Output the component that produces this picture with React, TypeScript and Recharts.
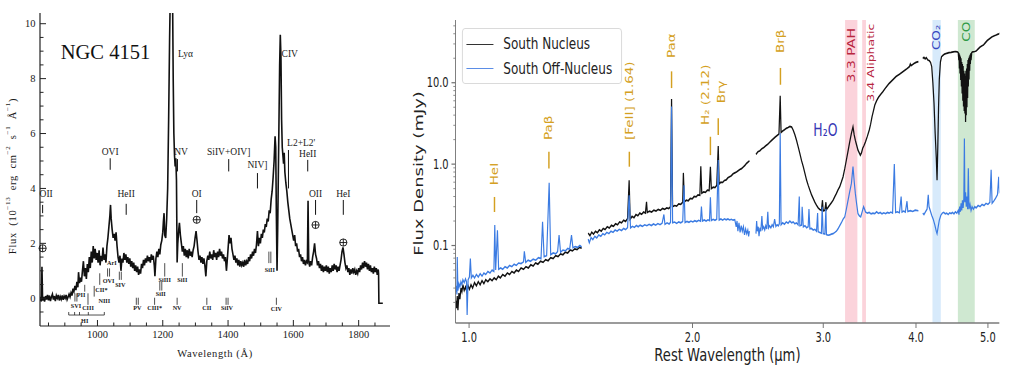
import React from "react";
import { LineChart, Line, XAxis, YAxis, ReferenceLine, ReferenceDot, ReferenceArea, Legend } from "recharts";

type Pt = [number, number | null];

// ================= Left panel: NGC 4151 UV spectrum =================
const uvFar: Pt[] = [
  [824,-0.1],[826,0.05],[828,-0.12],[830,1.15],[832,-0.08],[835,0.05],[838,-0.12],[841,0.08],[844,-0.05],[847,0.12],
  [850,-0.08],[853,0.1],[856,-0.1],[859,0.05],[862,0.15],[865,-0.05],[868,0.08],[871,-0.1],[874,0.1],[877,0.0],
  [880,0.12],[883,-0.08],[886,0.06],[889,-0.04],[892,0.1],[895,-0.06],[898,0.08],[901,0.0],[904,0.12],[907,-0.05],
  [910,0.05],[913,0.15],[916,0.05],[919,0.2],[922,0.1],[925,0.35],[928,0.25],[931,0.45],[934,0.3],[937,0.6],
  [940,0.4],[942,0.95],[945,0.55],[948,0.75],[951,0.6],[954,1.0],[957,1.35],[960,0.8],[963,1.1],[966,0.7],
  [969,1.25],[972,0.95],[975,1.5],[978,1.1],[981,1.7],[984,1.3],[987,1.9],[990,1.45],[993,1.8],[996,1.4],[999,1.65],
];
const uvOVI: Pt[] = [
  [1002,1.3],[1005,1.75],[1008,1.2],[1011,1.55],[1014,1.35],[1017,1.85],[1020,1.4],[1023,1.6],[1026,1.3],[1029,1.9],
  [1032,2.2],[1035,2.6],[1038,3.0],[1040,3.4],[1042,2.9],[1045,2.5],[1048,2.2],[1051,2.35],[1054,2.1],[1057,2.4],
  [1060,1.9],[1063,1.5],[1066,1.3],[1069,1.55],[1072,1.0],[1075,1.45],[1078,1.3],[1081,1.65],[1084,1.4],[1087,1.6],
  [1090,1.3],[1093,1.5],[1096,1.25],[1099,1.45],[1102,1.15],[1105,1.35],[1108,1.1],[1111,1.3],[1114,1.0],[1117,1.2],
  [1120,0.95],[1123,1.15],[1126,0.85],[1129,1.05],[1132,0.9],[1135,1.25],[1138,1.1],[1141,1.4],[1144,1.2],[1147,1.45],
  [1150,1.3],[1153,1.55],[1156,1.35],[1159,1.5],[1162,1.3],[1165,1.6],[1168,1.4],[1171,1.55],[1174,1.2],[1176,0.8],
  [1179,1.45],[1182,1.7],[1185,1.5],[1188,1.8],[1191,1.6],[1194,1.95],[1197,2.1],[1200,2.4],
];
const uvLya: Pt[] = [
  [1202,2.8],[1204,3.1],[1206,2.3],[1209,2.2],[1212,2.9],[1215,4.0],[1218,6.5],[1221,9.5],[1223,11],[1227,11],
  [1230,11],[1232,8.0],[1234,6.0],[1236,5.2],[1238,4.8],[1240,5.1],[1242,4.3],[1244,1.3],[1246,2.0],[1249,2.5],
  [1251,2.75],[1254,2.3],[1257,2.0],[1260,1.7],[1263,1.9],[1266,1.55],[1269,1.8],[1272,1.5],[1275,1.75],[1278,1.45],
  [1281,1.8],[1284,1.55],[1287,1.7],[1290,1.5],[1293,1.75],[1296,1.9],[1299,2.2],[1302,2.45],[1305,2.1],[1308,1.7],
  [1311,1.4],[1314,1.55],[1317,1.3],[1320,1.5],[1323,1.25],[1326,1.45],[1329,1.2],[1332,0.8],[1335,1.35],[1338,1.55],
  [1341,1.4],[1344,1.7],[1347,1.45],[1350,1.6],[1353,1.4],[1356,1.75],[1359,1.5],[1362,1.65],[1365,1.4],[1368,1.7],
  [1371,1.5],[1374,1.8],[1377,1.55],[1380,1.7],[1383,1.45],[1386,1.6],[1389,1.35],[1392,1.5],[1395,1.0],[1397,1.3],
  [1400,1.8],[1403,2.3],[1406,2.0],
];
const uvCIV: Pt[] = [
  [1409,2.2],[1412,1.8],[1415,1.6],[1418,1.4],[1421,1.55],[1424,1.3],[1427,1.45],[1430,1.2],[1433,1.4],[1436,1.15],
  [1439,1.35],[1442,1.2],[1445,1.3],[1448,1.15],[1451,1.4],[1454,1.2],[1457,1.35],[1460,1.25],[1463,1.5],[1466,1.35],
  [1469,1.6],[1472,1.45],[1475,1.7],[1478,1.55],[1481,1.8],[1484,1.65],[1487,1.95],[1490,2.45],[1493,1.9],[1496,2.2],
  [1499,2.0],[1502,2.35],[1505,2.2],[1508,2.5],[1511,2.4],[1514,2.7],[1517,2.6],[1520,2.9],[1523,2.8],[1526,3.2],
  [1529,3.1],[1532,3.6],[1535,3.9],[1538,4.4],[1541,5.0],[1544,5.9],[1546,5.5],[1548,3.0],[1550,1.0],[1552,2.5],
  [1554,4.5],[1556,6.5],[1558,8.5],[1560,9.6],[1562,8.8],[1564,6.5],[1566,5.5],[1568,5.2],[1570,4.9],[1572,5.3],
  [1574,4.6],[1577,4.2],[1580,3.9],[1583,3.5],[1586,3.2],[1589,2.9],[1592,2.7],[1595,2.5],[1598,2.3],
];
const uvRed: Pt[] = [
  [1601,2.1],[1604,2.3],[1607,1.9],[1610,2.0],[1613,1.7],[1616,1.8],[1619,1.5],[1622,1.6],[1625,1.35],[1628,1.5],
  [1631,1.25],[1634,1.4],[1637,1.2],[1640,1.35],[1643,1.3],[1645,3.55],[1647,1.4],[1650,1.15],[1653,1.35],[1656,1.2],
  [1659,1.5],[1662,1.7],[1665,2.0],[1668,1.6],[1671,1.45],[1674,1.2],[1677,1.35],[1680,1.1],[1683,1.25],[1686,1.0],
  [1689,1.2],[1692,0.95],[1695,1.15],[1698,1.0],[1701,1.2],[1704,0.95],[1707,1.15],[1710,0.9],[1713,1.1],[1716,0.95],
  [1719,1.2],[1722,1.0],[1725,1.25],[1728,1.05],[1731,1.2],[1734,0.95],[1737,1.15],[1740,1.0],[1743,1.2],[1746,1.4],
  [1749,1.7],[1752,1.85],[1755,1.6],[1758,1.3],[1761,1.1],[1764,1.2],[1767,0.95],[1770,1.1],[1773,0.85],[1776,1.05],
  [1779,0.9],[1782,1.1],[1785,0.95],[1788,1.05],[1791,0.85],[1794,1.0],[1797,0.9],[1800,1.1],[1803,0.95],[1806,1.2],
  [1809,1.05],[1812,1.3],[1815,1.1],[1818,1.35],[1821,1.15],[1824,1.3],[1827,1.05],[1830,1.25],[1833,1.0],[1836,1.2],
  [1839,0.95],[1842,1.1],[1845,0.9],[1848,1.15],[1851,0.95],[1854,1.1],[1857,0.85],[1860,1.05],[1861,0.9],[1862,-0.18],
  [1874,-0.18],
];

const uvXTicks = [850,900,950,1000,1050,1100,1150,1200,1250,1300,1350,1400,1450,1500,1550,1600,1650,1700,1750,1800,1850];
const uvXLabelled = [1000,1200,1400,1600,1800];
const uvYTicks = [-0.5,0,0.5,1,1.5,2,2.5,3,3.5,4,4.5,5,5.5,6,6.5,7,7.5,8,8.5,9,9.5,10];
const uvYLabelled = [0,2,4,6,8,10];

// emission line labels: text, wavelength, flux of baseline
const uvTopText = ["OII","OVI","HeII","Lyα","NV","SiIV+OIV]","NIV]","CIV","L2+L2'","HeII","OI","OII","HeI"];
const uvTopTextX = [843,1039,1088,1270,1256,1402,1490,1589,1624,1644,1304,1668,1753];
const uvTopTextY = [3.7,5.22,3.7,8.8,5.22,5.22,4.74,8.8,5.53,5.16,3.7,3.7,3.7];
const uvTopMarkX = [832,1039,1088,1245,1402,1490,1585,1644,1304,1668,1753];
const uvTopMarkY1 = [3.4,5.1,3.44,5.07,5.07,4.56,5.4,5.04,3.58,3.58,3.58];
const uvTopMarkY2 = [3.1,4.68,3.04,4.62,4.62,4.0,4.0,4.62,3.1,3.04,3.04];
const uvEarthX = [832,1304,1668,1753];
const uvEarthY = [1.82,2.86,2.67,2.03];

// absorption labels (small)
const uvLowText = ["ArI","OVI","SIV","CII*","NIII","PII","CIII","SVI","HI","PV","CIII*","SiII","SiIII","SiII","NV","CII","SiIV","CIV","SiII"];
const uvLowTextX = [1044,1034,1070,1012,1021,950,971,934,961,1122,1175,1194,1206,1260,1244,1335,1397,1548,1528];
const uvLowTextY = [1.22,0.57,0.4,0.24,-0.18,0.06,-0.43,-0.34,-0.89,-0.43,-0.43,0.09,0.61,0.61,-0.43,-0.43,-0.43,-0.45,0.97];
const uvLowMarkX = [1007,990,961,971,1175,1206,1260,1244,1335,1548];
const uvLowMarkY1 = [0.91,0.45,0.49,0.18,0.02,1.28,1.28,0.02,0.02,0.02];
const uvLowMarkY2 = [0.49,0.06,0.24,-0.24,-0.24,0.79,0.79,-0.24,-0.24,-0.24];
const uvPairMarkX = [1034,1070,1194,1122,1397,1528,934];
const uvPairMarkY1 = [1.09,0.97,0.61,0.02,0.02,1.7,0.18];
const uvPairMarkY2 = [0.79,0.67,0.28,-0.24,-0.24,1.28,-0.12];
const uvHIBracket = [912, 1021];
const uvHIBracketY = [-0.61, -0.5];
const uvHITicks = [912, 930, 945, 972, 1021];
const uvTitle = "NGC 4151";
const uvTitlePos = [887.6, 8.71];

// ================= Right panel: JWST spectrum =================
const nucSeg1: Pt[] = [
  [0.959,0.021],[0.962,0.017],[0.964,0.024],[0.966,0.016],[0.969,0.026],[0.972,0.022],[0.975,0.03],[0.978,0.027],[0.981,0.033],[0.985,0.028],
  [0.989,0.031],[0.993,0.027],[0.997,0.032],[1.001,0.029],[1.006,0.033],[1.011,0.03],[1.017,0.035],[1.023,0.032],[1.029,0.036],[1.035,0.033],
  [1.041,0.037],[1.047,0.034],[1.053,0.038],[1.06,0.036],[1.067,0.039],[1.074,0.037],[1.081,0.04],[1.088,0.038],[1.095,0.042],[1.102,0.04],
  [1.11,0.044],[1.118,0.042],[1.126,0.046],[1.134,0.044],[1.142,0.048],[1.15,0.046],[1.158,0.05],[1.166,0.048],[1.175,0.053],[1.184,0.051],
  [1.193,0.055],[1.202,0.053],[1.211,0.058],[1.22,0.056],[1.229,0.061],[1.238,0.059],[1.248,0.064],[1.258,0.062],[1.268,0.067],[1.278,0.065],
  [1.288,0.071],[1.298,0.069],[1.308,0.075],[1.318,0.073],[1.328,0.079],[1.338,0.077],[1.348,0.083],[1.358,0.081],[1.368,0.088],[1.378,0.086],
  [1.388,0.091],[1.398,0.089],[1.408,0.095],[1.418,0.093],
];
const nucSeg2: Pt[] = [
  [1.447,0.142],[1.455,0.132],[1.463,0.146],[1.471,0.138],[1.48,0.15],[1.489,0.144],[1.498,0.156],[1.507,0.15],[1.516,0.162],[1.525,0.157],
  [1.535,0.17],[1.545,0.164],[1.555,0.177],[1.565,0.172],[1.575,0.185],[1.585,0.18],[1.595,0.195],[1.605,0.19],[1.615,0.205],[1.625,0.198],
  [1.635,0.215],[1.643,0.635],[1.648,0.21],[1.658,0.228],[1.668,0.22],[1.678,0.24],[1.688,0.232],[1.698,0.25],[1.708,0.242],[1.718,0.258],
  [1.728,0.25],[1.734,0.344],[1.738,0.255],[1.75,0.265],[1.762,0.258],[1.774,0.272],[1.786,0.265],[1.798,0.278],[1.81,0.27],[1.822,0.285],
  [1.834,0.278],[1.846,0.29],[1.858,0.285],[1.868,0.3],[1.874,6.3],[1.88,0.3],[1.892,0.31],[1.904,0.305],[1.916,0.325],[1.928,0.32],
  [1.94,0.34],[1.944,0.78],[1.95,0.345],[1.962,0.36],[1.974,0.355],[1.986,0.38],[1.998,0.375],[2.01,0.4],[2.022,0.395],[2.034,0.42],
  [2.046,0.415],[2.052,0.94],[2.058,0.44],[2.07,0.455],[2.082,0.45],[2.094,0.48],[2.106,0.475],[2.114,0.93],[2.12,0.5],[2.132,0.52],
  [2.144,0.515],[2.156,0.55],[2.166,1.67],[2.172,0.57],[2.184,0.6],[2.196,0.595],[2.208,0.63],[2.22,0.64],[2.232,0.68],[2.244,0.7],
  [2.256,0.72],[2.268,0.76],[2.28,0.78],[2.292,0.8],[2.304,0.83],[2.316,0.86],[2.328,0.88],[2.34,0.92],[2.352,0.96],[2.364,1.02],
  [2.376,1.06],[2.386,1.1],
];
const nucSeg3: Pt[] = [
  [2.435,1.32],[2.45,1.42],[2.465,1.46],[2.48,1.55],[2.495,1.6],[2.51,1.68],[2.525,1.75],[2.54,1.85],[2.555,1.95],[2.57,2.05],
  [2.585,2.15],[2.6,2.25],[2.615,2.35],[2.625,6.9],[2.632,2.45],[2.645,2.55],[2.66,2.65],[2.675,2.75],[2.69,2.82],[2.705,2.9],
  [2.72,2.85],[2.733,2.62],[2.747,2.3],[2.761,1.97],[2.775,1.65],[2.79,1.35],[2.805,1.1],[2.82,0.93],[2.835,0.76],[2.849,0.635],
  [2.863,0.55],[2.878,0.48],[2.893,0.42],[2.908,0.378],[2.923,0.34],[2.938,0.313],[2.953,0.29],[2.968,0.277],[2.983,0.27],[2.993,0.36],
  [2.999,0.266],[3.015,0.27],[3.025,0.34],[3.03,0.277],[3.045,0.295],[3.06,0.313],[3.076,0.335],[3.093,0.36],[3.11,0.4],[3.125,0.436],
  [3.14,0.48],[3.157,0.526],[3.173,0.6],[3.19,0.698],[3.207,0.88],[3.223,1.12],[3.24,1.45],[3.257,1.88],[3.274,2.4],[3.29,2.88],
  [3.302,2.3],[3.314,1.97],[3.328,1.7],[3.341,1.49],[3.354,1.38],[3.366,1.29],[3.378,1.38],[3.39,1.56],[3.405,1.7],[3.42,1.88],
  [3.44,2.2],[3.46,2.62],[3.475,3.1],[3.49,3.82],[3.505,4.5],[3.52,5.3],[3.54,6.0],[3.56,6.6],[3.585,7.2],[3.61,7.77],
  [3.645,8.8],[3.68,9.8],[3.72,10.8],[3.76,11.9],[3.8,12.7],[3.84,13.6],[3.88,14.6],[3.92,15.8],[3.93,17],[3.94,16.2],
  [3.975,17.2],[4.0,17.8],[4.03,18.2],
];
const nucSeg4: Pt[] = [
  [4.085,19.9],[4.1,20.5],[4.115,19.6],[4.13,20.3],[4.15,19.0],[4.17,18.6],[4.185,17.8],[4.2,15.8],[4.215,10],[4.23,5.6],
  [4.245,2.4],[4.26,1.2],[4.27,0.635],[4.28,1.63],[4.29,5],[4.3,11],[4.315,18],[4.33,20.9],[4.35,21.8],[4.37,22.5],
  [4.4,23],[4.43,23.4],[4.46,23.6],[4.49,23.9],[4.52,24.2],[4.545,24],[4.56,23.5],[4.568,19],[4.572,23],[4.576,15],
  [4.58,22],[4.585,13],[4.59,21],[4.595,10.8],[4.6,20],[4.605,9],[4.61,18],[4.615,7.4],[4.62,17],[4.625,6],
  [4.63,16],[4.635,5.1],[4.64,14],[4.645,4.5],[4.65,13],[4.655,4.2],[4.66,12],[4.665,3.3],[4.67,14],[4.675,4.0],
  [4.68,15],[4.685,5.0],[4.69,17],[4.695,6.5],[4.7,19],[4.705,9],[4.71,20],[4.715,11],[4.72,21],[4.725,14],
  [4.73,22],[4.735,17],[4.74,23],[4.745,19],[4.755,23.5],[4.77,24],[4.8,24.2],[4.82,24.5],[4.85,26],[4.88,27.5],
  [4.91,28.5],[4.93,29],[4.96,31],[4.99,33],[5.03,35],[5.06,36.5],[5.1,37.8],[5.13,38.6],[5.16,39.5],[5.19,40.5],[5.22,41.5],
];
const offSeg1: Pt[] = [
  [0.959,0.027],[0.961,0.032],[0.963,0.025],[0.964,0.072],[0.966,0.028],[0.969,0.034],[0.972,0.031],[0.975,0.036],[0.978,0.033],[0.981,0.038],
  [0.985,0.035],[0.989,0.039],[0.992,0.036],[0.994,0.014],[0.997,0.038],[1.001,0.041],[1.004,0.069],[1.007,0.04],[1.012,0.043],[1.017,0.04],
  [1.023,0.044],[1.029,0.041],[1.035,0.045],[1.041,0.042],[1.047,0.046],[1.053,0.044],[1.06,0.048],[1.067,0.046],[1.074,0.05],[1.08,0.048],
  [1.083,0.178],[1.086,0.05],[1.092,0.154],[1.096,0.051],[1.103,0.053],[1.11,0.051],[1.118,0.055],[1.126,0.053],[1.134,0.057],[1.142,0.055],
  [1.15,0.059],[1.158,0.057],[1.166,0.061],[1.175,0.06],[1.184,0.063],[1.187,0.085],[1.192,0.062],[1.201,0.066],[1.21,0.064],[1.22,0.068],
  [1.23,0.066],[1.24,0.071],[1.25,0.069],[1.256,0.195],[1.262,0.073],[1.272,0.075],[1.282,0.59],[1.288,0.077],[1.298,0.081],[1.308,0.079],
  [1.316,0.084],[1.322,0.134],[1.328,0.083],[1.338,0.088],[1.348,0.086],[1.358,0.092],[1.366,0.09],[1.374,0.134],[1.38,0.094],[1.39,0.097],
  [1.4,0.095],[1.41,0.1],[1.418,0.096],
];
const offSeg2: Pt[] = [
  [1.447,0.12],[1.452,0.108],[1.46,0.125],[1.468,0.118],[1.477,0.13],[1.486,0.124],[1.495,0.135],[1.505,0.13],[1.514,0.14],[1.523,0.135],
  [1.533,0.145],[1.543,0.14],[1.553,0.15],[1.563,0.145],[1.573,0.155],[1.583,0.15],[1.593,0.158],[1.605,0.153],[1.615,0.162],[1.625,0.157],
  [1.635,0.166],[1.643,0.415],[1.65,0.165],[1.66,0.172],[1.67,0.167],[1.68,0.176],[1.69,0.17],[1.7,0.178],[1.712,0.172],[1.724,0.18],
  [1.736,0.175],[1.748,0.182],[1.76,0.176],[1.772,0.184],[1.784,0.178],[1.796,0.186],[1.808,0.18],[1.82,0.188],[1.83,0.24],[1.836,0.182],
  [1.848,0.19],[1.86,0.184],[1.868,0.192],[1.874,5.1],[1.88,0.19],[1.892,0.194],[1.904,0.187],[1.916,0.195],[1.928,0.19],[1.94,0.197],
  [1.948,0.55],[1.954,0.192],[1.966,0.198],[1.978,0.193],[1.99,0.2],[2.002,0.195],[2.014,0.202],[2.026,0.197],[2.038,0.204],[2.05,0.199],
  [2.056,0.3],[2.062,0.2],[2.074,0.206],[2.086,0.2],[2.098,0.207],[2.108,0.202],[2.114,0.39],[2.12,0.203],[2.132,0.21],[2.144,0.204],
  [2.156,0.211],[2.166,1.12],[2.172,0.206],[2.184,0.212],[2.196,0.205],[2.208,0.213],[2.22,0.207],[2.232,0.212],[2.244,0.206],[2.256,0.21],
  [2.268,0.205],[2.28,0.208],[2.29,0.17],[2.296,0.2],[2.302,0.15],[2.31,0.19],[2.318,0.145],[2.326,0.175],[2.334,0.15],[2.342,0.17],
  [2.35,0.135],[2.358,0.16],[2.366,0.14],[2.374,0.155],[2.38,0.13],[2.386,0.15],
];
const offSeg3: Pt[] = [
  [2.435,0.14],[2.44,0.2],[2.445,0.15],[2.452,0.17],[2.458,0.13],[2.465,0.165],[2.472,0.15],[2.48,0.23],[2.486,0.16],[2.494,0.17],
  [2.502,0.155],[2.51,0.175],[2.518,0.16],[2.526,0.26],[2.532,0.165],[2.54,0.175],[2.55,0.165],[2.56,0.18],[2.57,0.17],[2.58,0.21],
  [2.59,0.172],[2.6,0.18],[2.61,0.174],[2.618,0.185],[2.625,2.4],[2.632,0.18],[2.645,0.19],[2.66,0.183],[2.675,0.195],[2.69,0.188],
  [2.705,0.2],[2.72,0.19],[2.733,0.195],[2.747,0.185],[2.761,0.19],[2.775,0.18],[2.785,0.4],[2.79,0.175],[2.805,0.178],[2.81,0.3],
  [2.82,0.17],[2.835,0.175],[2.849,0.165],[2.863,0.17],[2.87,0.28],[2.878,0.16],[2.893,0.162],[2.908,0.155],[2.923,0.158],[2.938,0.15],
  [2.948,0.25],[2.953,0.148],[2.968,0.145],[2.983,0.142],[2.99,0.3],[2.999,0.14],[3.015,0.138],[3.025,0.28],[3.03,0.136],[3.045,0.134],
  [3.06,0.135],[3.076,0.138],[3.093,0.14],[3.11,0.145],[3.125,0.15],[3.14,0.16],[3.157,0.175],[3.173,0.19],[3.19,0.21],[3.207,0.225],
  [3.223,0.28],[3.24,0.36],[3.257,0.46],[3.274,0.58],[3.29,0.93],[3.302,0.62],[3.314,0.436],[3.328,0.32],[3.341,0.247],[3.355,0.232],
  [3.37,0.225],[3.385,0.26],[3.4,0.3],[3.41,0.28],[3.42,0.259],[3.44,0.25],[3.46,0.255],[3.48,0.245],[3.5,0.25],[3.52,0.247],
  [3.54,0.26],[3.56,0.248],[3.58,0.255],[3.6,0.245],[3.62,0.252],[3.64,0.246],[3.66,0.255],[3.68,0.25],[3.7,0.258],[3.72,0.25],
  [3.74,1.0],[3.755,0.255],[3.775,0.26],[3.8,0.253],[3.82,0.4],[3.83,0.258],[3.85,0.265],[3.87,0.258],[3.89,0.35],[3.9,0.262],
  [3.93,0.268],[3.96,0.262],[3.99,0.272],[4.03,0.268],
];
const offSeg4: Pt[] = [
  [4.085,0.25],[4.1,0.24],[4.12,0.26],[4.14,0.28],[4.155,0.42],[4.165,0.3],[4.18,0.27],[4.2,0.235],[4.22,0.21],[4.24,0.18],
  [4.26,0.15],[4.27,0.14],[4.285,0.17],[4.3,0.205],[4.32,0.235],[4.34,0.25],[4.36,0.256],[4.38,0.245],[4.4,0.25],[4.42,0.24],
  [4.44,0.252],[4.46,0.247],[4.48,0.255],[4.5,0.245],[4.52,0.26],[4.54,0.25],[4.56,0.27],[4.57,0.24],[4.58,0.3],[4.59,0.26],
  [4.6,0.33],[4.61,0.27],[4.62,0.36],[4.63,0.29],[4.64,0.38],[4.648,2.07],[4.655,0.34],[4.665,0.45],[4.675,0.3],[4.685,0.4],
  [4.695,0.28],[4.705,0.89],[4.715,0.28],[4.73,0.32],[4.745,0.27],[4.76,0.3],[4.78,0.28],[4.8,0.3],[4.82,0.29],[4.85,0.31],
  [4.88,0.3],[4.91,0.32],[4.94,0.31],[4.97,0.33],[5.0,0.32],[5.03,0.34],[5.05,0.85],[5.065,0.33],[5.09,0.35],[5.12,0.38],
  [5.15,0.42],[5.17,0.7],[5.18,0.45],[5.2,0.47],[5.22,0.5],
];
const detectorGaps = [1.432, 2.41, 4.058];

const irSeriesNames = ["South Nucleus", "South Off-Nucleus"];
const irXTicks = [1, 2, 3, 4, 5];
const irYTicks = [0.02,0.03,0.04,0.05,0.06,0.07,0.08,0.09,0.1,0.2,0.3,0.4,0.5,0.6,0.7,0.8,0.9,1,2,3,4,5,6,7,8,9,10,20,30,40,50];
const irYMajor = [0.1, 1, 10];
const irYMajorLabels = ["0.1", "1.0", "10.0"];

const irLineNames = ["HeI", "Paβ", "[FeII] (1.64)", "Paα", "H₂ (2.12)", "Brγ", "Brβ"];
const irLineNameX = [1.082, 1.281, 1.644, 1.874, 2.084, 2.19, 2.627];
const irLineNameY = [0.55, 1.98, 1.98, 20.2, 3.03, 5.6, 23.2];
const irLineMarkX = [1.082, 1.281, 1.644, 1.874, 2.114, 2.166, 2.627];
const irLineMarkTop = [0.395, 1.42, 1.42, 13.8, 2.17, 3.66, 15.2];
const irLineMarkBottom = [0.258, 0.885, 0.93, 8.6, 1.29, 2.28, 9.45];

const irBandNames = ["3.3 PAH", "3.4 Aliphatic", "CO₂", "CO"];
const irBandNameX = [3.28, 3.478, 4.265, 4.675];
const irBandNameY = [10.1, 5.85, 25.2, 31.9];
const irBandRanges = [[3.21, 3.335], [3.385, 3.425], [4.21, 4.32], [4.555, 4.8]];
const irIceLabel = "H₂O";
const irIcePos = [3.02, 2.62];

// ================= styles =================
const SERIF = "'Liberation Serif', 'DejaVu Serif', serif";
const SANS = "'DejaVu Sans', sans-serif";
const INK = "#1a1a1a";
const NUC_COLOR = "#121212";
const OFF_COLOR = "#3b7be2";
const GOLD = "#d4a021";
const bandFills = ["rgba(246,150,170,0.42)", "rgba(246,150,170,0.42)", "rgba(150,200,245,0.38)", "rgba(140,200,145,0.42)"];
const bandTextColors = ["#b8263e", "#b8263e", "#3848c0", "#2f9a45"];
const bandTextSizes = [14, 12.5, 13.5, 13.5];
const SQUEEZE = 0.73;
const IR_W = 834;

const toPoints = (arr: Pt[]) => arr.map(([x, y]) => ({ x, y }));
const joinSegments = (segs: Pt[][]) => {
  const out: Pt[] = [];
  segs.forEach((s, i) => {
    out.push(...s);
    if (i < detectorGaps.length && i < segs.length - 1) out.push([detectorGaps[i], null]);
  });
  return toPoints(out);
};

const uvData = toPoints([...uvFar, ...uvOVI, ...uvLya, ...uvCIV, ...uvRed]);
const nucData = joinSegments([nucSeg1, nucSeg2, nucSeg3, nucSeg4]);
const offData = joinSegments([offSeg1, offSeg2, offSeg3, offSeg4]);

// ---- tick renderers (left panel: inward ticks, frame on four sides) ----
const uvBottomTick = (p: any) => {
  const v = p.payload.value;
  const major = uvXLabelled.includes(v);
  return (
    <g>
      <line x1={p.x} y1={p.y} x2={p.x} y2={p.y - (major ? 6 : 3.5)} stroke="#222" strokeWidth={1} />
      {major && (
        <text x={p.x} y={p.y + 11.5} textAnchor="middle" fontFamily={SERIF} fontSize={10.5} fill={INK}>{v}</text>
      )}
    </g>
  );
};
const uvTopTick = (p: any) => {
  const major = uvXLabelled.includes(p.payload.value);
  return <line x1={p.x} y1={p.y} x2={p.x} y2={p.y + (major ? 6 : 3.5)} stroke="#222" strokeWidth={1} />;
};
const uvLeftTick = (p: any) => {
  const v = p.payload.value;
  const major = uvYLabelled.includes(v);
  return (
    <g>
      <line x1={p.x} y1={p.y} x2={p.x + (major ? 6 : 3.5)} y2={p.y} stroke="#222" strokeWidth={1} />
      {major && (
        <text x={p.x - 4.5} y={p.y} textAnchor="end" dominantBaseline="central" fontFamily={SERIF} fontSize={10.5} fill={INK}>{v}</text>
      )}
    </g>
  );
};
const uvRightTick = (p: any) => {
  const major = uvYLabelled.includes(p.payload.value);
  return <line x1={p.x} y1={p.y} x2={p.x - (major ? 6 : 3.5)} y2={p.y} stroke="#222" strokeWidth={1} />;
};

// ---- tick renderers (right panel) ----
const irBottomTick = (p: any) => (
  <g>
    <line x1={p.x} y1={p.y} x2={p.x} y2={p.y + 5} stroke="#6f6f6f" strokeWidth={1.3} />
    <text x={p.x} y={p.y + 19} textAnchor="middle" fontFamily={SANS} fontSize={13.5} fill="#222">
      {Number(p.payload.value).toFixed(1)}
    </text>
  </g>
);
const irLeftTick = (p: any) => {
  const idx = irYMajor.findIndex((m) => Math.abs(m - p.payload.value) < 1e-9);
  const major = idx >= 0;
  return (
    <g>
      <line x1={p.x - (major ? 5.5 : 3)} y1={p.y} x2={p.x} y2={p.y} stroke="#6f6f6f" strokeWidth={major ? 1.2 : 0.9} />
      {major && (
        <text x={p.x - 9.5} y={p.y} textAnchor="end" dominantBaseline="central" fontFamily={SANS} fontSize={13.5} fill="#222">
          {irYMajorLabels[idx]}
        </text>
      )}
    </g>
  );
};

const textDot = (text: string, opts: any) => (p: any) => (
  <text
    x={p.cx}
    y={p.cy}
    textAnchor={opts.anchor || "middle"}
    dominantBaseline={opts.baseline || "alphabetic"}
    transform={opts.rotate ? `rotate(-90 ${p.cx} ${p.cy})` : undefined}
    fontFamily={opts.font}
    fontSize={opts.size}
    fill={opts.color}
    fontWeight={opts.weight || "normal"}
  >
    {text}
  </text>
);

const earthSymbol = (p: any) => (
  <g stroke="#111" strokeWidth={0.9} fill="none">
    <circle cx={p.cx} cy={p.cy} r={3.6} />
    <line x1={p.cx - 3.6} y1={p.cy} x2={p.cx + 3.6} y2={p.cy} />
    <line x1={p.cx} y1={p.cy - 3.6} x2={p.cx} y2={p.cy + 3.6} />
  </g>
);

const legendContent = () => (
  <div
    style={{
      position: "relative",
      width: 219,
      height: 56,
      boxSizing: "border-box",
      border: "1px solid #d4d4d4",
      borderRadius: 4,
      background: "rgba(255,255,255,0.85)",
      fontFamily: SANS,
      fontSize: 16.5,
      color: "#222",
    }}
  >
    {irSeriesNames.map((name, i) => (
      <div
        key={name}
        style={{ position: "absolute", left: 0, top: 3 + i * 24.7, height: 24, display: "flex", alignItems: "center", whiteSpace: "nowrap" }}
      >
        <div style={{ width: 37, marginLeft: 5, borderTop: `1.6px solid ${i === 0 ? "#333" : "#5b8de6"}` }} />
        <span style={{ marginLeft: 13.5, lineHeight: "24px" }}>{name}</span>
      </div>
    ))}
  </div>
);

function UVPanel() {
  const ax = { xAxisId: "b", yAxisId: "l" } as const;
  return (
    <LineChart width={400} height={370} margin={{ top: 13, right: 10, bottom: 0, left: 0 }}>
      <XAxis
        xAxisId="b"
        dataKey="x"
        type="number"
        domain={[824, 1896]}
        allowDataOverflow
        ticks={uvXTicks}
        interval={0}
        tickSize={0}
        tickMargin={0}
        tickLine={false}
        tick={uvBottomTick}
        height={44}
        axisLine={{ stroke: "#222", strokeWidth: 1.2 }}
        label={(props: any) => {
          const vb = props.viewBox || { x: 40, y: 326, width: 350, height: 44 };
          return (
            <text x={vb.x + vb.width / 2} y={vb.y + 30.5} textAnchor="middle" fontFamily={SERIF} fontSize={10.5}
              letterSpacing={0.6} fill={INK}>
              Wavelength (Å)
            </text>
          );
        }}
      />
      <XAxis
        xAxisId="t"
        orientation="top"
        dataKey="x"
        type="number"
        domain={[824, 1896]}
        allowDataOverflow
        ticks={uvXTicks}
        interval={0}
        tickSize={0}
        tickMargin={0}
        tickLine={false}
        tick={uvTopTick}
        height={0}
        axisLine={{ stroke: "#222", strokeWidth: 1.2 }}
      />
      <YAxis
        yAxisId="l"
        type="number"
        domain={[-1.01, 10.39]}
        allowDataOverflow
        ticks={uvYTicks}
        interval={0}
        tickSize={0}
        tickMargin={0}
        tickLine={false}
        tick={uvLeftTick}
        width={40}
        axisLine={{ stroke: "#222", strokeWidth: 1.2 }}
        label={(props: any) => {
          const vb = props.viewBox || { x: 0, y: 13, width: 40, height: 313 };
          const cx = vb.x + 12;
          const cy = vb.y + vb.height / 2 + 6.5;
          return (
            <text x={cx} y={cy} transform={`rotate(-90 ${cx} ${cy})`} textAnchor="middle" dominantBaseline="central"
              fontFamily={SERIF} fontSize={10.5} letterSpacing={0.7} wordSpacing={3} fill={INK}>
              Flux (10<tspan dy={-4} fontSize={7}>−13</tspan>
              <tspan dy={4}> erg cm</tspan><tspan dy={-4} fontSize={7}>−2</tspan>
              <tspan dy={4}> s</tspan><tspan dy={-4} fontSize={7}>−1</tspan>
              <tspan dy={4}> Å</tspan><tspan dy={-4} fontSize={7}>−1</tspan>
              <tspan dy={4}>)</tspan>
            </text>
          );
        }}
      />
      <YAxis
        yAxisId="r"
        orientation="right"
        type="number"
        domain={[-1.01, 10.39]}
        allowDataOverflow
        ticks={uvYTicks}
        interval={0}
        tickSize={0}
        tickMargin={0}
        tickLine={false}
        tick={uvRightTick}
        width={0}
        axisLine={{ stroke: "#222", strokeWidth: 1.2 }}
      />
      <Line xAxisId="t" yAxisId="r" data={uvData} dataKey="y" stroke="none" dot={false} isAnimationActive={false} legendType="none" />
      <Line {...ax} data={uvData} dataKey="y" stroke="#111" strokeWidth={1.6} strokeLinejoin="miter" dot={false} isAnimationActive={false} />

      {uvTopMarkX.map((x, i) => (
        <ReferenceLine key={`tm${i}`} {...ax} segment={[{ x, y: uvTopMarkY1[i] }, { x, y: uvTopMarkY2[i] }]} stroke="#111" strokeWidth={1} />
      ))}
      {uvTopText.map((t, i) => (
        <ReferenceDot key={`tt${i}`} {...ax} x={uvTopTextX[i]} y={uvTopTextY[i]} r={0}
          shape={textDot(t, { font: SERIF, size: 9.5, color: INK })} />
      ))}
      {uvEarthX.map((x, i) => (
        <ReferenceDot key={`e${i}`} {...ax} x={x} y={uvEarthY[i]} r={0} shape={earthSymbol} />
      ))}
      {uvLowMarkX.map((x, i) => (
        <ReferenceLine key={`lm${i}`} {...ax} segment={[{ x, y: uvLowMarkY1[i] }, { x, y: uvLowMarkY2[i] }]} stroke="#222" strokeWidth={0.8} />
      ))}
      {uvPairMarkX.map((x, i) => (
        <React.Fragment key={`pm${i}`}>
          <ReferenceLine {...ax} segment={[{ x: x - 3, y: uvPairMarkY1[i] }, { x: x - 3, y: uvPairMarkY2[i] }]} stroke="#222" strokeWidth={0.8} />
          <ReferenceLine {...ax} segment={[{ x: x + 3, y: uvPairMarkY1[i] }, { x: x + 3, y: uvPairMarkY2[i] }]} stroke="#222" strokeWidth={0.8} />
        </React.Fragment>
      ))}
      <ReferenceLine {...ax} segment={[{ x: uvHIBracket[0], y: uvHIBracketY[0] }, { x: uvHIBracket[1], y: uvHIBracketY[0] }]} stroke="#222" strokeWidth={0.8} />
      {uvHITicks.map((x, i) => (
        <ReferenceLine key={`hi${i}`} {...ax} segment={[{ x, y: uvHIBracketY[0] }, { x, y: uvHIBracketY[1] }]} stroke="#222" strokeWidth={0.8} />
      ))}
      {uvLowText.map((t, i) => (
        <ReferenceDot key={`lt${i}`} {...ax} x={uvLowTextX[i]} y={uvLowTextY[i]} r={0}
          shape={textDot(t, { font: SERIF, size: 6.2, color: INK, weight: "bold" })} />
      ))}
      <ReferenceDot {...ax} x={uvTitlePos[0]} y={uvTitlePos[1]} r={0}
        shape={textDot(uvTitle, { font: SERIF, size: 20.5, color: "#111", anchor: "start" })} />
    </LineChart>
  );
}

function IRPanel() {
  return (
    <LineChart width={IR_W} height={370} margin={{ top: 20, right: 13, bottom: 0, left: 0 }}>
      <XAxis
        dataKey="x"
        type="number"
        scale="log"
        domain={[0.9587, 5.18]}
        allowDataOverflow
        ticks={irXTicks}
        interval={0}
        tickSize={0}
        tickMargin={0}
        tickLine={false}
        tick={irBottomTick}
        height={47}
        axisLine={{ stroke: "#7a7a7a", strokeWidth: 1.3 }}
        label={(props: any) => {
          const vb = props.viewBox || { x: 76, y: 323, width: 745, height: 47 };
          return (
            <text x={vb.x + vb.width / 2} y={vb.y + 38} textAnchor="middle" fontFamily={SANS} fontSize={18} fill="#222">
              Rest Wavelength (μm)
            </text>
          );
        }}
      />
      <YAxis
        type="number"
        scale="log"
        domain={[0.01117, 59]}
        allowDataOverflow
        ticks={irYTicks}
        interval={0}
        tickSize={0}
        tickMargin={0}
        tickLine={false}
        tick={irLeftTick}
        width={76}
        axisLine={{ stroke: "#7a7a7a", strokeWidth: 1.3 }}
        label={(props: any) => {
          const vb = props.viewBox || { x: 0, y: 20, width: 76, height: 303 };
          const cx = vb.x + 24.7;
          const cy = vb.y + vb.height / 2 + 2;
          return (
            <text x={cx} y={cy} transform={`rotate(-90 ${cx} ${cy})`} textAnchor="middle" dominantBaseline="central"
              fontFamily={SANS} fontSize={18} fill="#222">
              Flux Density (mJy)
            </text>
          );
        }}
      />
      {irBandRanges.map((r, i) => (
        <ReferenceArea key={`band${i}`} x1={r[0]} x2={r[1]} fill={bandFills[i]} fillOpacity={1} stroke="none" ifOverflow="visible" />
      ))}
      <ReferenceArea fill="none" stroke="#7a7a7a" strokeWidth={1.3} ifOverflow="visible" />

      <Line data={nucData} dataKey="y" name={irSeriesNames[0]} stroke={NUC_COLOR} strokeWidth={1.7} dot={false}
        isAnimationActive={false} connectNulls={false} />
      <Line data={offData} dataKey="y" name={irSeriesNames[1]} stroke={OFF_COLOR} strokeWidth={1.6} dot={false}
        isAnimationActive={false} connectNulls={false} />

      {irLineMarkX.map((x, i) => (
        <ReferenceLine key={`gm${i}`} segment={[{ x, y: irLineMarkTop[i] }, { x, y: irLineMarkBottom[i] }]} stroke={GOLD} strokeWidth={2} />
      ))}
      {irLineNames.map((t, i) => (
        <ReferenceDot key={`gl${i}`} x={irLineNameX[i]} y={irLineNameY[i]} r={0}
          shape={textDot(t, { font: SANS, size: 13.5, color: GOLD, anchor: "start", baseline: "central", rotate: true })} />
      ))}
      {irBandNames.map((t, i) => (
        <ReferenceDot key={`bl${i}`} x={irBandNameX[i]} y={irBandNameY[i]} r={0}
          shape={textDot(t, { font: SANS, size: bandTextSizes[i], color: bandTextColors[i], anchor: "start", baseline: "central", rotate: true })} />
      ))}
      <ReferenceDot x={irIcePos[0]} y={irIcePos[1]} r={0}
        shape={textDot(irIceLabel, { font: SANS, size: 17, color: "#3636b4", anchor: "middle", baseline: "central" })} />

      <Legend layout="vertical" align="center" verticalAlign="middle"
        wrapperStyle={{ left: 85, top: 28, width: 219, height: 56 }} content={legendContent} />
    </LineChart>
  );
}

export default function App() {
  return (
    <div style={{ position: "absolute", left: 0, top: 0, width: 1009, height: 370, background: "#fff", overflow: "hidden" }}>
      <div style={{ position: "absolute", left: 0, top: 0, width: 400, height: 370 }}>
        <UVPanel />
      </div>
      <div
        style={{
          position: "absolute",
          left: 400,
          top: 0,
          width: IR_W,
          height: 370,
          transform: `scaleX(${SQUEEZE})`,
          transformOrigin: "0 0",
        }}
      >
        <IRPanel />
      </div>
    </div>
  );
}
